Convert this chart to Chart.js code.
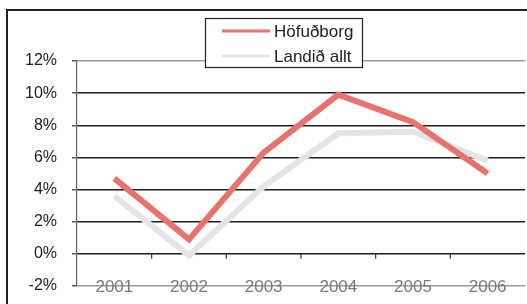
<!DOCTYPE html>
<html>
<head>
<meta charset="utf-8">
<script src="https://cdn.jsdelivr.net/npm/chart.js@4"></script>
<style>
  html, body { margin: 0; padding: 0; background: #fff; }
  #wrap { position: relative; width: 527px; height: 304px; }
</style>
</head>
<body>
<div id="wrap"><canvas id="chart" width="527" height="304"></canvas></div>
<script>
'use strict';

const YEARS      = ['2001', '2002', '2003', '2004', '2005', '2006'];
const HOFUDBORG  = [4.7, 0.9, 6.3, 9.9, 8.2, 5.0];
const LANDID     = [3.6, -0.1, 4.2, 7.5, 7.6, 5.8];
const SERIES     = ['Höfuðborg', 'Landið allt'];

const RED  = '#e8726c';
const GREY = '#e4e4e6';
const FONT = '"Liberation Sans", Arial, sans-serif';

// ── Frame, x labels, axis tick marks, legend ───────────────────────────────

const decor = {
    id: 'decor',
    beforeDraw(chart) {
        const c = chart.ctx;
        c.save();
        c.strokeStyle = '#222';
        c.lineWidth = 2;
        c.beginPath();
        c.moveTo(7, 304);
        c.lineTo(7, 10);
        c.lineTo(527, 10);
        c.stroke();
        c.restore();
    },
    beforeDatasetsDraw(chart) {
        // year labels sit on the -2% line, under the series
        const c = chart.ctx;
        const x = chart.scales.x;
        const yb = chart.chartArea.bottom;
        c.save();
        c.font = `17px ${FONT}`;
        c.textAlign = 'center';
        c.textBaseline = 'middle';
        c.fillStyle = '#7a7a7a';
        YEARS.forEach((yr, i) => c.fillText(yr, x.getPixelForValue(i), yb + 1));
        c.restore();
    },
    afterDatasetsDraw(chart) {
        const c = chart.ctx;
        const x = chart.scales.x, y = chart.scales.y;
        const y0 = y.getPixelForValue(0);
        c.save();
        c.strokeStyle = '#333';
        c.lineWidth = 1.2;
        for (let i = 1; i < YEARS.length; i++) {
            const px = (x.getPixelForValue(i - 1) + x.getPixelForValue(i)) / 2;
            c.beginPath();
            c.moveTo(px, y0);
            c.lineTo(px, y0 + 5);
            c.stroke();
        }
        c.restore();
    },
    afterDraw(chart) {
        const c = chart.ctx;
        c.save();
        c.fillStyle = '#fff';
        c.fillRect(205, 18, 158, 50);
        c.strokeStyle = '#222';
        c.lineWidth = 1.2;
        c.strokeRect(205.5, 18.5, 157, 49);
        const rows = [[SERIES[0], RED, 31], [SERIES[1], GREY, 56]];
        c.font = `17px ${FONT}`;
        c.textBaseline = 'middle';
        rows.forEach(([label, col, ry]) => {
            c.strokeStyle = col;
            c.lineWidth = 3;
            c.beginPath();
            c.moveTo(222, ry);
            c.lineTo(270, ry);
            c.stroke();
            c.fillStyle = '#222';
            c.fillText(label, 274, ry + 1);
        });
        c.restore();
    }
};

// ── Chart ──────────────────────────────────────────────────────────────────

const gridColor = ctx => (ctx.tick && (ctx.tick.value === 12 || ctx.tick.value === -2)) ? '#9a9a9a' : '#1e1e1e';

new Chart(document.getElementById('chart'), {
    type: 'line',
    data: {
        labels: YEARS,
        datasets: [
            { label: SERIES[0], data: HOFUDBORG, borderColor: RED,  borderWidth: 6, pointRadius: 0, tension: 0 },
            { label: SERIES[1], data: LANDID,    borderColor: GREY, borderWidth: 6, pointRadius: 0, tension: 0 },
        ]
    },
    options: {
        responsive: false,
        animation: false,
        layout: { padding: { top: 61, right: 2, bottom: 0, left: 0 } },
        plugins: { legend: { display: false }, tooltip: { enabled: false } },
        scales: {
            x: {
                offset: true,
                grid: { display: false },
                border: { display: false },
                ticks: { display: false },
                afterFit: s => { s.height = 18; }
            },
            y: {
                min: -2, max: 12,
                ticks: {
                    stepSize: 2,
                    color: '#222',
                    padding: 15,
                    font: { family: FONT, size: 16 },
                    callback: v => v + '%'
                },
                grid: { color: gridColor, lineWidth: 1.5, tickLength: 5, tickColor: '#555' },
                border: { color: '#666', width: 1.2 },
                afterFit: s => { s.width = 77; s.paddingTop = 0; s.paddingBottom = 0; }
            }
        }
    },
    plugins: [decor]
});
</script>
</body>
</html>
